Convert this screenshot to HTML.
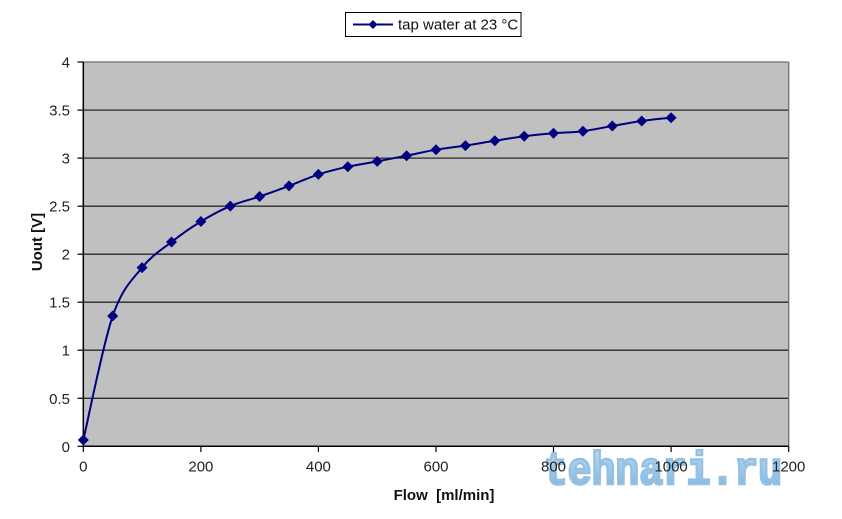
<!DOCTYPE html>
<html><head><meta charset="utf-8"><style>
html,body{margin:0;padding:0;background:#fff;}
svg{display:block;}
text{font-family:"Liberation Sans",Arial,sans-serif;}
</style></head><body>
<svg width="842" height="519" viewBox="0 0 842 519" xmlns="http://www.w3.org/2000/svg">
<defs>
<linearGradient id="wm" x1="0" y1="0" x2="0" y2="1">
<stop offset="0" stop-color="#c2dcf0"/>
<stop offset="0.5" stop-color="#9cc6e6"/>
<stop offset="1" stop-color="#78acd6"/>
</linearGradient>
</defs>
<rect x="0" y="0" width="842" height="519" fill="#fff"/>
<!-- plot area -->
<rect x="83.3" y="62" width="705.4" height="384.3" fill="#c0c0c0"/>
<g stroke="#2a2a2a" stroke-width="1.3">
<line x1="83.3" y1="398.3" x2="788.7" y2="398.3"/>
<line x1="83.3" y1="350.2" x2="788.7" y2="350.2"/>
<line x1="83.3" y1="302.2" x2="788.7" y2="302.2"/>
<line x1="83.3" y1="254.2" x2="788.7" y2="254.2"/>
<line x1="83.3" y1="206.2" x2="788.7" y2="206.2"/>
<line x1="83.3" y1="158.1" x2="788.7" y2="158.1"/>
<line x1="83.3" y1="110.1" x2="788.7" y2="110.1"/>
</g>
<g stroke="#6e6e6e" stroke-width="1.3">
<line x1="83.3" y1="62" x2="788.7" y2="62"/>
<line x1="788.7" y1="62" x2="788.7" y2="446.3"/>
</g>
<!-- watermark -->
<text x="544" y="484" font-weight="bold" font-size="46" textLength="238" lengthAdjust="spacingAndGlyphs" fill="url(#wm)" stroke="#93c0e3" stroke-width="2.6" stroke-linejoin="miter" style="font-family:'Liberation Mono',monospace">tehnari.ru</text>
<!-- axes -->
<g stroke="#000" stroke-width="1.5">
<line x1="83.3" y1="62" x2="83.3" y2="446.3"/>
<line x1="83.3" y1="446.3" x2="788.7" y2="446.3"/>
</g>
<g stroke="#000" stroke-width="1.2">
<line x1="77.5" y1="62" x2="83.3" y2="62"/>
<line x1="77.5" y1="110.1" x2="83.3" y2="110.1"/>
<line x1="77.5" y1="158.1" x2="83.3" y2="158.1"/>
<line x1="77.5" y1="206.2" x2="83.3" y2="206.2"/>
<line x1="77.5" y1="254.2" x2="83.3" y2="254.2"/>
<line x1="77.5" y1="302.2" x2="83.3" y2="302.2"/>
<line x1="77.5" y1="350.2" x2="83.3" y2="350.2"/>
<line x1="77.5" y1="398.3" x2="83.3" y2="398.3"/>
<line x1="77.5" y1="446.3" x2="83.3" y2="446.3"/>
<line x1="83.3" y1="446.3" x2="83.3" y2="452"/>
<line x1="200.9" y1="446.3" x2="200.9" y2="452"/>
<line x1="318.4" y1="446.3" x2="318.4" y2="452"/>
<line x1="436.0" y1="446.3" x2="436.0" y2="452"/>
<line x1="553.5" y1="446.3" x2="553.5" y2="452"/>
<line x1="671.1" y1="446.3" x2="671.1" y2="452"/>
<line x1="788.7" y1="446.3" x2="788.7" y2="452"/>
</g>
<!-- y tick labels -->
<g font-size="15" fill="#222" text-anchor="end">
<text x="70" y="67.5">4</text>
<text x="70" y="115.6">3.5</text>
<text x="70" y="163.6">3</text>
<text x="70" y="211.7">2.5</text>
<text x="70" y="259.7">2</text>
<text x="70" y="307.7">1.5</text>
<text x="70" y="355.7">1</text>
<text x="70" y="403.8">0.5</text>
<text x="70" y="451.8">0</text>
</g>
<!-- x tick labels -->
<g font-size="15" fill="#222" text-anchor="middle">
<text x="83.3" y="471.5">0</text>
<text x="200.9" y="471.5">200</text>
<text x="318.4" y="471.5">400</text>
<text x="436.0" y="471.5">600</text>
<text x="553.5" y="471.5">800</text>
<text x="671.1" y="471.5">1000</text>
<text x="788.7" y="471.5">1200</text>
</g>
<!-- axis titles -->
<text x="444" y="500" font-size="15" font-weight="bold" fill="#111" text-anchor="middle" xml:space="preserve">Flow  [ml/min]</text>
<text transform="translate(42,242) rotate(-90)" font-size="15" font-weight="bold" fill="#111" text-anchor="middle">Uout [V]</text>
<!-- series -->
<path fill="none" stroke="#000080" stroke-width="2" d="M83.3,440.0
C88.2,419.33 102.9,344.73 112.7,316.0
C122.5,287.27 132.3,279.93 142.1,267.6
C151.9,255.27 161.7,249.68 171.5,242.0
C181.3,234.32 191.1,227.48 200.9,221.5
C210.7,215.52 220.5,210.27 230.3,206.1
C240.1,201.93 249.8,199.87 259.6,196.5
C269.4,193.13 279.2,189.58 289.0,185.9
C298.8,182.22 308.6,177.6 318.4,174.4
C328.2,171.2 338.0,168.87 347.8,166.7
C357.6,164.53 367.4,163.23 377.2,161.4
C387.0,159.57 396.8,157.65 406.6,155.7
C416.4,153.75 426.2,151.38 436.0,149.7
C445.8,148.02 455.6,147.08 465.4,145.6
C475.2,144.12 485.0,142.35 494.8,140.8
C504.6,139.25 514.4,137.55 524.2,136.3
C534.0,135.05 543.7,134.15 553.5,133.3
C563.3,132.45 573.1,132.42 582.9,131.2
C592.7,129.98 602.5,127.7 612.3,126.0
C622.1,124.3 631.9,122.38 641.7,121.0
C651.5,119.62 666.2,118.25 671.1,117.7"/>
<g fill="#000080">
<path d="M83.3,434.5 L88.8,440.0 L83.3,445.5 L77.8,440.0Z"/>
<path d="M112.7,310.5 L118.2,316.0 L112.7,321.5 L107.2,316.0Z"/>
<path d="M142.1,262.1 L147.6,267.6 L142.1,273.1 L136.6,267.6Z"/>
<path d="M171.5,236.5 L177.0,242.0 L171.5,247.5 L166.0,242.0Z"/>
<path d="M200.9,216.0 L206.4,221.5 L200.9,227.0 L195.4,221.5Z"/>
<path d="M230.3,200.6 L235.8,206.1 L230.3,211.6 L224.8,206.1Z"/>
<path d="M259.6,191.0 L265.1,196.5 L259.6,202.0 L254.1,196.5Z"/>
<path d="M289.0,180.4 L294.5,185.9 L289.0,191.4 L283.5,185.9Z"/>
<path d="M318.4,168.9 L323.9,174.4 L318.4,179.9 L312.9,174.4Z"/>
<path d="M347.8,161.2 L353.3,166.7 L347.8,172.2 L342.3,166.7Z"/>
<path d="M377.2,155.9 L382.7,161.4 L377.2,166.9 L371.7,161.4Z"/>
<path d="M406.6,150.2 L412.1,155.7 L406.6,161.2 L401.1,155.7Z"/>
<path d="M436.0,144.2 L441.5,149.7 L436.0,155.2 L430.5,149.7Z"/>
<path d="M465.4,140.1 L470.9,145.6 L465.4,151.1 L459.9,145.6Z"/>
<path d="M494.8,135.3 L500.3,140.8 L494.8,146.3 L489.3,140.8Z"/>
<path d="M524.2,130.8 L529.7,136.3 L524.2,141.8 L518.7,136.3Z"/>
<path d="M553.5,127.8 L559.0,133.3 L553.5,138.8 L548.0,133.3Z"/>
<path d="M582.9,125.7 L588.4,131.2 L582.9,136.7 L577.4,131.2Z"/>
<path d="M612.3,120.5 L617.8,126.0 L612.3,131.5 L606.8,126.0Z"/>
<path d="M641.7,115.5 L647.2,121.0 L641.7,126.5 L636.2,121.0Z"/>
<path d="M671.1,112.2 L676.6,117.7 L671.1,123.2 L665.6,117.7Z"/>
</g>
<!-- legend -->
<rect x="345.5" y="12.5" width="175.5" height="24" fill="#fff" stroke="#000" stroke-width="1"/>
<line x1="353" y1="24.5" x2="393" y2="24.5" stroke="#000080" stroke-width="2"/>
<path d="M373,20 L377.5,24.5 L373,29 L368.5,24.5Z" fill="#000080"/>
<text x="398" y="29.5" font-size="15" fill="#111">tap water at 23 °C</text>
</svg>
</body></html>
